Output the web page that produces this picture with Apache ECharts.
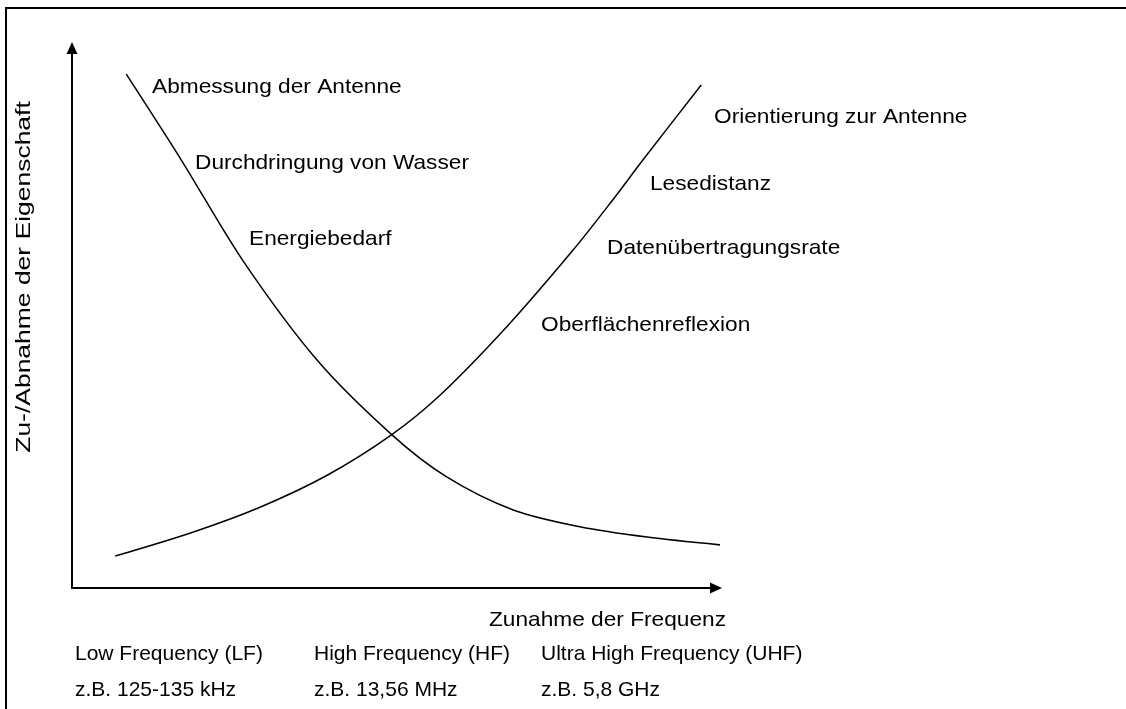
<!DOCTYPE html>
<html>
<head>
<meta charset="utf-8">
<script src="https://cdn.jsdelivr.net/npm/echarts@6/dist/echarts.min.js"></script>
<style>
  html, body { margin: 0; padding: 0; background: #fff; }
  #chart { width: 1126px; height: 709px; }
</style>
</head>
<body>
<div id="chart"></div>
<script>
// ---- data (abstract scale 0..100 on both axes) ----
const risingX  = [6.7, 18.7, 29.1, 39.5, 49.4, 57.0, 67.3, 77.6, 83.7, 88.4, 97.4];
const risingY  = [5.9, 10.3, 14.9, 20.8, 28.2, 35.6, 48.2, 62.4, 71.6, 79.0, 92.8];
const fallingX = [8.4, 16.9, 26.4, 37.9, 49.4, 58.0, 68.3, 78.6, 89.0, 100.8];
const fallingY = [94.8, 79.0, 60.5, 42.1, 28.4, 20.5, 14.4, 11.3, 9.4, 7.9];

const fallingLabels = ["Abmessung der Antenne", "Durchdringung von Wasser", "Energiebedarf"];
const risingLabels  = ["Orientierung zur Antenne", "Lesedistanz", "Datenübertragungsrate", "Oberflächenreflexion"];
const bandNames     = ["Low Frequency (LF)", "High Frequency (HF)", "Ultra High Frequency (UHF)"];
const bandExamples  = ["z.B. 125-135 kHz", "z.B. 13,56 MHz", "z.B. 5,8 GHz"];
const xAxisName = "Zunahme der Frequenz";
const yAxisName = "Zu-/Abnahme der Eigenschaft";

// ---- layout (pixels) ----
const FONT = '"Liberation Sans", Arial, Helvetica, sans-serif';
const FS = 21;
const fallingPos = [[152, 87], [195, 163], [249, 239]];
const risingPos  = [[714, 117], [650, 184], [607, 248], [541, 325]];
const bandPosX   = [75, 314, 541];
const bandNameY  = 654;
const bandExY    = 690;
const STRETCH = 1.08;

function txt(text, x, y, opts) {
  opts = opts || {};
  return {
    type: 'text', x: x, y: y, silent: true,
    scaleX: opts.scaleX || 1, rotation: opts.rotation || 0,
    style: { text: text, fill: '#000', font: (opts.fs || FS) + 'px ' + FONT,
             textAlign: opts.align || 'left', textVerticalAlign: 'middle' }
  };
}

const graphics = [
  { type: 'rect', silent: true, shape: { x: 6, y: 8, width: 1300, height: 900 },
    style: { fill: 'none', stroke: '#000', lineWidth: 2 } }
];
fallingLabels.forEach((t, i) => graphics.push(txt(t, fallingPos[i][0], fallingPos[i][1], { scaleX: STRETCH })));
risingLabels.forEach((t, i) => graphics.push(txt(t, risingPos[i][0], risingPos[i][1], { scaleX: STRETCH })));
bandNames.forEach((t, i) => graphics.push(txt(t, bandPosX[i], bandNameY)));
bandExamples.forEach((t, i) => graphics.push(txt(t, bandPosX[i], bandExY)));
graphics.push(txt(xAxisName, 489, 620, { scaleX: STRETCH }));
graphics.push(txt(yAxisName, 24, 277, { rotation: Math.PI / 2, align: 'center', scaleX: 1.26 }));

const chart = echarts.init(document.getElementById('chart'), null, { renderer: 'canvas' });
const axisCommon = {
  type: 'value', min: 0, max: 100,
  axisLine: { show: true, onZero: false, symbol: ['none', 'triangle'], symbolSize: [11, 12], symbolOffset: [0, -2],
              lineStyle: { color: '#000', width: 2 } },
  axisTick: { show: false }, axisLabel: { show: false }, splitLine: { show: false }
};
chart.setOption({
  animation: false,
  backgroundColor: '#fff',
  grid: { left: 72, right: 1126 - 718, top: 46, bottom: 709 - 588, containLabel: false },
  xAxis: axisCommon,
  yAxis: axisCommon,
  graphic: graphics,
  series: [
    { type: 'line', data: risingX.map((x, i) => [x, risingY[i]]), smooth: 0.3,
      showSymbol: false, clip: false, lineStyle: { color: '#000', width: 1.5 } },
    { type: 'line', data: fallingX.map((x, i) => [x, fallingY[i]]), smooth: 0.3,
      showSymbol: false, clip: false, lineStyle: { color: '#000', width: 1.5 } }
  ]
});
</script>
</body>
</html>
